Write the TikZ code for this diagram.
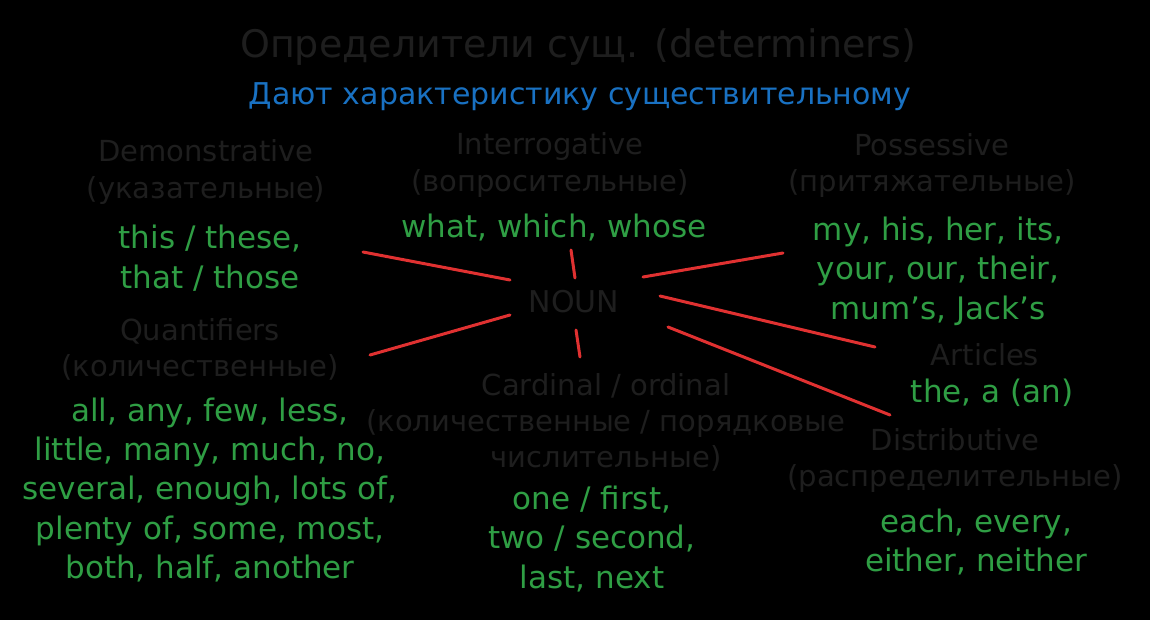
\documentclass[tikz,border=0pt]{standalone}
\usepackage{fontspec}
\setmainfont{DejaVu Sans}
\definecolor{NoteBlack}{HTML}{1E1E1E}
\definecolor{NoteGreen}{HTML}{2F9E44}
\definecolor{NoteBlue}{HTML}{1971C2}
\definecolor{NoteRed}{HTML}{E03131}

\begin{document}
\begin{tikzpicture}[x=0.5pt,y=-0.5pt,
    head/.style={NoteBlack,align=center,inner sep=0pt,font=\fontsize{14.5}{18}\selectfont},
    ex/.style={NoteGreen,align=center,inner sep=0pt,font=\fontsize{15.5}{19.7}\selectfont},
    link/.style={NoteRed,line width=1.5pt,line cap=round}]
  \fill[black] (0,0) rectangle (1150,620);

  % title
  \node[NoteBlack,font=\fontsize{19}{22}\selectfont] (title) at (578,47)
    {Определители сущ. (determiners)};
  \node[NoteBlue,font=\fontsize{15}{18}\selectfont] (subtitle) at (580,97)
    {Дают характеристику существительному};

  % centre
  \node[NoteBlack,font=\fontsize{15}{18}\selectfont] (noun) at (574,302) {NOUN};

  % groups
  \node[head] (demo) at (206,172) {Demonstrative\\(указательные)};
  \node[ex] (demoex) at (210,258) {this / these,\\that / those};

  \node[head] (inter) at (550,165) {Interrogative\\(вопросительные)};
  \node[ex] (interex) at (554,228) {what, which, whose};

  \node[head] (poss) at (932,166) {Possessive\\(притяжательные)};
  \node[ex] (possex) at (938,271) {my, his, her, its,\\your, our, their,\\mum's, Jack's};

  \node[head] (quant) at (200,349) {Quantifiers\\(количественные)};
  \node[ex] (quantex) at (210,490)
    {all, any, few, less,\\little, many, much, no,\\several, enough, lots of,\\plenty of, some, most,\\both, half, another};

  \node[head] (card) at (606,422)
    {Cardinal / ordinal\\(количественные / порядковые\\числительные)};
  \node[ex] (cardex) at (592,539) {one / first,\\two / second,\\last, next};

  \node[head] (art) at (985,355) {Articles};
  \node[ex] (artex) at (992,393) {the, a (an)};

  \node[head] (dist) at (955,460) {Distributive\\(распределительные)};
  \node[ex] (distex) at (976,542) {each, every,\\either, neither};

  % connector ends
  \coordinate (n-demo) at (510,280);   \coordinate (e-demo) at (363,252);
  \coordinate (n-quant) at (510,315);  \coordinate (e-quant) at (370,355);
  \coordinate (n-inter) at (575,278);  \coordinate (e-inter) at (571,250);
  \coordinate (n-card) at (576,330);   \coordinate (e-card) at (580,357);
  \coordinate (n-poss) at (643,277);   \coordinate (e-poss) at (783,253);
  \coordinate (n-art) at (660,296);    \coordinate (e-art) at (875,347);
  \coordinate (n-dist) at (668,327);   \coordinate (e-dist) at (890,415);

  \foreach \g in {demo,quant,inter,card,poss,art,dist}
    \draw[link] (n-\g) -- (e-\g);
\end{tikzpicture}
\end{document}
